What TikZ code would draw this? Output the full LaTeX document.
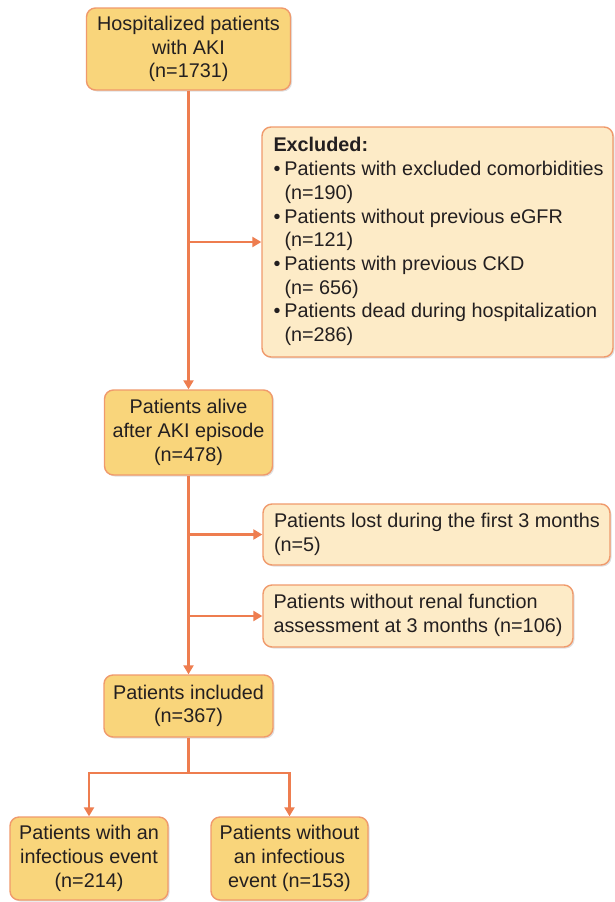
\documentclass[tikz,border=0pt]{standalone}
\usepackage{fontspec}
\setmainfont{Liberation Sans}
\usetikzlibrary{arrows.meta,shadows}
\definecolor{mainfill}{HTML}{F9D57B}
\definecolor{lightfill}{HTML}{FDEBC7}
\definecolor{bordercol}{HTML}{F09A6C}
\definecolor{linecol}{HTML}{EE7D4F}
\definecolor{txt}{HTML}{231F20}
\newcommand{\lblock}[2]{\makebox[#1][l]{\begin{tabular}{@{}l@{}}#2\end{tabular}}}
\begin{document}
\begin{tikzpicture}[x=1pt,y=-1pt,
  base/.style={draw=bordercol, line width=1.4pt, rounded corners=9pt, text=txt,
    font=\fontsize{19.8}{23.7}\selectfont, inner sep=0pt,
    drop shadow={shadow xshift=1.5pt, shadow yshift=-1.5pt, fill=black, opacity=0.12}},
  box/.style={base, fill=mainfill, align=center},
  lbox/.style={base, fill=lightfill},
  conn/.style={draw=linecol, line width=2.4pt},
  arr/.style={conn, -{Triangle[length=9pt,width=10pt]}}]
\useasboundingbox (0,0) rectangle (614,902);
\fill[white] (0,0) rectangle (614,902);

\node[box, minimum width=204pt, minimum height=82pt] (top) at (188.5,49)
  {Hospitalized patients\\with AKI\\(n=1731)};
\node[lbox, minimum width=351pt, minimum height=230pt] (excl) at (437.5,242)
  {\lblock{328pt}{\textbf{Excluded:}\\
   \makebox[11pt][l]{\textbullet}Patients with excluded comorbidities\\
   \hspace*{11pt}(n=190)\\
   \makebox[11pt][l]{\textbullet}Patients without previous eGFR\\
   \hspace*{11pt}(n=121)\\
   \makebox[11pt][l]{\textbullet}Patients with previous CKD\\
   \hspace*{11pt}(n= 656)\\
   \makebox[11pt][l]{\textbullet}Patients dead during hospitalization\\
   \hspace*{11pt}(n=286)}};
\node[box, minimum width=168pt, minimum height=85pt] (alive) at (188.5,432.5)
  {Patients alive\\after AKI episode\\(n=478)};
\node[lbox, minimum width=347pt, minimum height=61pt] (lost) at (436.5,534.5)
  {\lblock{325pt}{Patients lost during the first 3 months\\(n=5)}};
\node[lbox, minimum width=310pt, minimum height=62pt] (renal) at (418,616)
  {\lblock{289pt}{Patients without renal function\\assessment at 3 months (n=106)}};
\node[box, minimum width=169pt, minimum height=62pt] (incl) at (188.5,706)
  {Patients included\\(n=367)};
\node[box, minimum width=158pt, minimum height=83pt] (left) at (89,858.5)
  {Patients with an\\infectious event\\(n=214)};
\node[box, minimum width=157pt, minimum height=83pt] (right) at (289.5,858.5)
  {Patients without\\an infectious\\event (n=153)};

\coordinate (j1) at (top.south |- excl.west);
\coordinate (j2) at (alive.south |- lost.west);
\coordinate (j3) at (alive.south |- renal.west);
\coordinate (split) at (188.5,773);

\draw[arr] (top.south) -- (alive.north);
\draw[arr] (j1) -- (excl.west);
\draw[arr] (alive.south) -- (incl.north);
\draw[arr] (j2) -- (lost.west);
\draw[arr] (j3) -- (renal.west);
\draw[conn] (incl.south) -- (split);
\draw[arr] (split) -| (left.north);
\draw[arr] (split) -| (right.north);
\end{tikzpicture}
\end{document}
